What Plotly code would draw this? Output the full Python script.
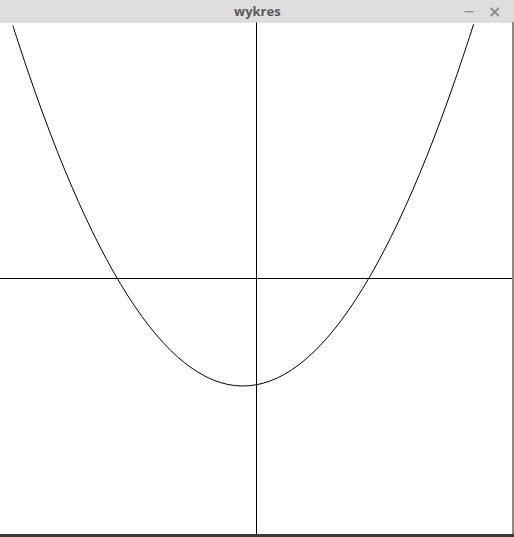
import plotly.graph_objects as go

# Values (data units: x spans -9..9, y spans -48..48)
x_vals = [-8.55, -8.5, -8.0, -7.5, -7.0, -6.5, -6.0, -5.5, -5.0, -4.5, -4.0, -3.5,
          -3.0, -2.5, -2.0, -1.5, -1.0, -0.5, 0.0, 0.5, 1.0, 1.5, 2.0, 2.5, 3.0,
          3.5, 4.0, 4.5, 5.0, 5.5, 6.0, 6.5, 7.0, 7.5, 7.65]
y_vals = [47.34, 46.51, 38.47, 30.94, 23.93, 17.44, 11.46, 6.00, 1.05, -3.38, -7.29,
          -10.69, -13.58, -15.94, -17.79, -19.13, -19.95, -20.25, -20.03, -19.30,
          -18.06, -16.30, -14.02, -11.23, -7.92, -4.09, 0.25, 5.11, 10.48, 16.37,
          22.78, 29.70, 37.14, 45.09, 47.58]
x_range = [-9, 9]
y_range = [-48, 48]
window_title = "wykres"

W, H = 514, 537
top_bar = 22
plot_right = 512
plot_bottom = 534

fig = go.Figure()
fig.add_trace(go.Scatter(x=x_vals, y=y_vals, mode="lines",
                         line=dict(color="black", width=1, shape="spline"),
                         hoverinfo="skip", showlegend=False))

fig.update_layout(
    width=W, height=H,
    margin=dict(l=0, r=0, t=0, b=0),
    paper_bgcolor="white", plot_bgcolor="white",
    xaxis=dict(range=x_range, domain=[0, plot_right / W], showgrid=False,
               showticklabels=False, ticks="", zeroline=True, zerolinecolor="black",
               zerolinewidth=1, showline=False, fixedrange=True),
    yaxis=dict(range=y_range, domain=[(H - plot_bottom) / H, (H - top_bar) / H],
               showgrid=False, showticklabels=False, ticks="", zeroline=True,
               zerolinecolor="black", zerolinewidth=1, showline=False, fixedrange=True),
    shapes=[
        # title bar
        dict(type="rect", xref="paper", yref="paper", x0=0, x1=1,
             y0=(H - top_bar) / H, y1=1, fillcolor="#dedede", line=dict(width=0),
             layer="above"),
        dict(type="line", xref="paper", yref="paper", x0=0, x1=1,
             y0=(H - top_bar) / H, y1=(H - top_bar) / H,
             line=dict(color="#cfcfcf", width=1), layer="above"),
        # right border
        dict(type="rect", xref="paper", yref="paper", x0=plot_right / W, x1=1,
             y0=0, y1=(H - top_bar) / H, fillcolor="#8a8a8a", line=dict(width=0),
             layer="above"),
        # bottom strip
        dict(type="rect", xref="paper", yref="paper", x0=0, x1=1,
             y0=0, y1=(H - plot_bottom) / H, fillcolor="#3a3a3a", line=dict(width=0),
             layer="above"),
    ],
    annotations=[
        dict(text="<b>" + window_title + "</b>", xref="paper", yref="paper",
             x=257 / W, y=1 - 11 / H, showarrow=False, xanchor="center",
             yanchor="middle", font=dict(family="Open Sans", size=13, color="#595959")),
        dict(text="<b>—</b>", xref="paper", yref="paper", x=469 / W, y=1 - 12 / H,
             showarrow=False, xanchor="center", yanchor="middle",
             font=dict(family="DejaVu Sans", size=10, color="#8a8a8a")),
        dict(text="<b>×</b>", xref="paper", yref="paper", x=494 / W, y=1 - 11 / H,
             showarrow=False, xanchor="center", yanchor="middle",
             font=dict(family="DejaVu Sans", size=16, color="#8a8a8a")),
    ],
)

fig.write_html("out.html", config={"displayModeBar": False},
               post_script="document.body.style.margin='0';document.body.style.overflow='hidden';")
